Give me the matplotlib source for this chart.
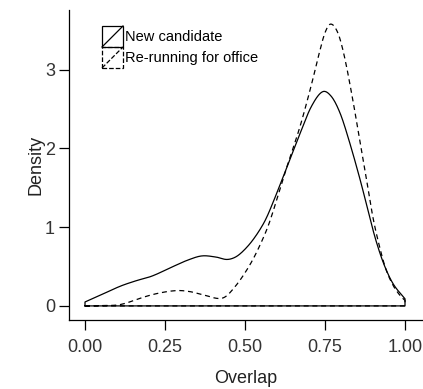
import numpy as np
import matplotlib.pyplot as plt
from matplotlib.legend_handler import HandlerBase
from matplotlib.patches import Rectangle
from matplotlib.lines import Line2D

plt.rcParams['font.family'] = ['Liberation Sans', 'DejaVu Sans']

# density estimates of overlap, read off per group
x_new = [0.0, 0.05, 0.11, 0.16, 0.21, 0.275, 0.32, 0.365, 0.41, 0.443, 0.47, 0.495,
         0.525, 0.557, 0.578, 0.628, 0.672, 0.707, 0.742, 0.77, 0.797, 0.823, 0.86,
         0.89, 0.91, 0.935, 0.963, 1.0]
d_new = [0.05, 0.14, 0.25, 0.32, 0.38, 0.50, 0.58, 0.635, 0.62, 0.59, 0.62, 0.70,
         0.84, 1.04, 1.22, 1.73, 2.19, 2.53, 2.72, 2.66, 2.45, 2.13, 1.60,
         1.12, 0.82, 0.52, 0.28, 0.09]

x_rerun = [0.0, 0.05, 0.11, 0.19, 0.24, 0.29, 0.33, 0.37, 0.43, 0.47, 0.515, 0.55,
           0.578, 0.628, 0.672, 0.707, 0.73, 0.75, 0.768, 0.79, 0.81, 0.835, 0.86,
           0.88, 0.9, 0.92, 0.94, 0.963, 0.985, 1.0]
d_rerun = [0.0, 0.005, 0.017, 0.12, 0.17, 0.195, 0.18, 0.14, 0.10, 0.25, 0.52, 0.80,
           1.08, 1.73, 2.28, 2.80, 3.18, 3.47, 3.58, 3.47, 3.18, 2.66, 2.07,
           1.60, 1.12, 0.76, 0.47, 0.26, 0.13, 0.07]

groups = ['New candidate', 'Re-running for office']
styles = ['-', (0, (4, 3))]


def smooth(xs, ys, n=500):
    # cardinal (Catmull-Rom) cubic through the points
    xs = np.asarray(xs, float)
    ys = np.asarray(ys, float)
    h = np.diff(xs)
    m = np.empty_like(ys)
    m[1:-1] = (ys[2:] - ys[:-2]) / (xs[2:] - xs[:-2])
    m[0] = (ys[1] - ys[0]) / h[0]
    m[-1] = (ys[-1] - ys[-2]) / h[-1]
    xx = np.linspace(xs[0], xs[-1], n)
    k = np.clip(np.searchsorted(xs, xx) - 1, 0, len(xs) - 2)
    t = (xx - xs[k]) / h[k]
    h00 = 2 * t**3 - 3 * t**2 + 1
    h10 = t**3 - 2 * t**2 + t
    h01 = -2 * t**3 + 3 * t**2
    h11 = t**3 - t**2
    yy = h00 * ys[k] + h10 * h[k] * m[k] + h01 * ys[k + 1] + h11 * h[k] * m[k + 1]
    return xx, np.maximum(yy, 0)


class BoxKey(HandlerBase):
    # outlined square with a diagonal, like a polygon key
    def create_artists(self, legend, orig, xd, yd, w, h, fontsize, trans):
        ls = orig.get_linestyle()
        box = Rectangle((-xd, -yd), w, h, fill=False, lw=0.9,
                        ls=ls, ec='black', transform=trans)
        diag = Line2D([-xd, -xd + w], [-yd, -yd + h], lw=0.9,
                      ls=ls, color='black', transform=trans)
        return [box, diag]


fig = plt.figure(figsize=(4.23, 3.89), dpi=100)
ax = fig.add_axes([69 / 423, 69 / 389, 354 / 423, 310 / 389])

handles = []
for xs, ys, ls in [(x_new, d_new, styles[0]), (x_rerun, d_rerun, styles[1])]:
    xx, yy = smooth(xs, ys)
    px = np.concatenate([[xx[0]], xx, [xx[-1]], [xx[0]]])
    py = np.concatenate([[0], yy, [0], [0]])
    ln, = ax.plot(px, py, color='black', lw=0.9, ls=ls)
    handles.append(ln)

ax.set_xlim(-0.05, -0.05 + 354 / 320)
ax.set_ylim(-0.179, 3.759)
ax.set_xticks([0, 0.25, 0.5, 0.75, 1.0])
ax.set_xticklabels(['0.00', '0.25', '0.50', '0.75', '1.00'])
ax.set_yticks([0, 1, 2, 3])
ax.spines['top'].set_visible(False)
ax.spines['right'].set_visible(False)
ax.spines['left'].set_linewidth(0.9)
ax.spines['bottom'].set_linewidth(0.9)
ax.tick_params(length=7, width=0.9, labelsize=13, colors='black')
ax.tick_params(axis='x', pad=6.5)
ax.tick_params(axis='y', pad=3)
for lab in ax.get_xticklabels() + ax.get_yticklabels():
    lab.set_color('#333333')
ax.set_xlabel('Overlap', fontsize=13, color='#222222', labelpad=10)
ax.set_ylabel('Density', fontsize=13, color='#222222', labelpad=0.5)

ax.legend(handles, groups, handler_map={Line2D: BoxKey()}, loc='upper left',
          bbox_to_anchor=(102 / 423, 1 - 26 / 389), bbox_transform=fig.transFigure,
          frameon=False, fontsize=10.5, borderpad=0,
          handlelength=1.44, handleheight=1.836, handletextpad=0.14,
          labelspacing=0, borderaxespad=0)

fig.savefig('out.png', dpi=100)
